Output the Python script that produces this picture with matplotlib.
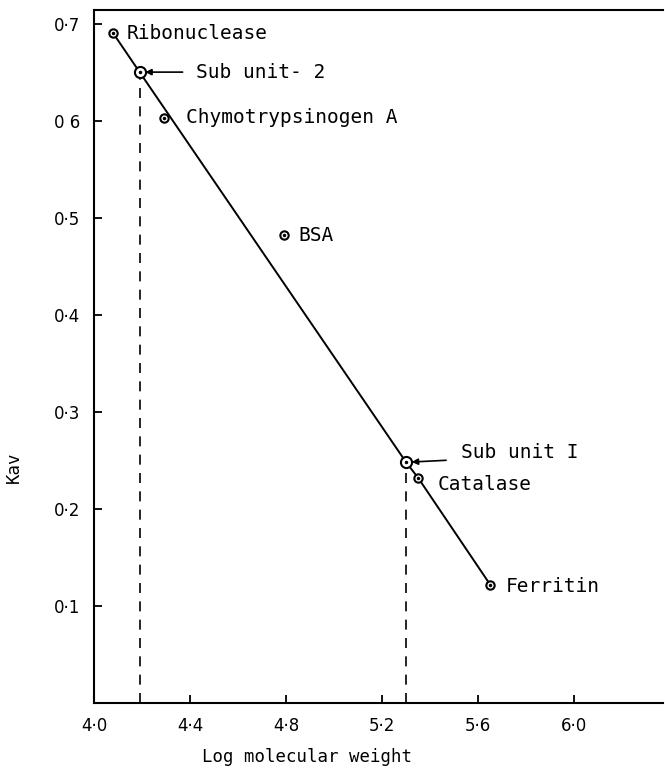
import matplotlib
matplotlib.use("Agg")
import matplotlib.pyplot as plt

# ---- data ----
proteins = ["Ribonuclease", "Chymotrypsinogen A", "BSA", "Catalase", "Ferritin"]
log_mw = [4.08, 4.29, 4.79, 5.35, 5.65]
kav = [0.69, 0.603, 0.482, 0.232, 0.122]

subunits = ["Sub unit- 2", "Sub unit I"]
sub_log_mw = [4.19, 5.30]
sub_kav = [0.65, 0.248]

x_ticks = [4.0, 4.4, 4.8, 5.2, 5.6, 6.0]
x_tick_labels = ["4·0", "4·4", "4·8", "5·2", "5·6", "6·0"]
y_ticks = [0.1, 0.2, 0.3, 0.4, 0.5, 0.6, 0.7]
y_tick_labels = ["0·1", "0·2", "0·3", "0·4", "0·5", "0 6", "0·7"]

MONO = "DejaVu Sans Mono"

# ---- figure ----
W, H = 665, 777
fig = plt.figure(figsize=(W / 100, H / 100), dpi=100)
ax = fig.add_axes([94 / W, 1 - 703 / H, (663 - 94) / W, (703 - 10) / H])
ax.set_xlim(4.0, 6.37)
ax.set_ylim(0.0, 0.714)

# fitted line through standards and subunits
line_x = [log_mw[0], sub_log_mw[0], sub_log_mw[1], log_mw[3], log_mw[4]]
line_y = [kav[0], sub_kav[0], sub_kav[1], kav[3], kav[4]]
ax.plot(line_x, line_y, color="black", lw=1.4, zorder=2)

# dashed drop lines for subunits
for xs, ys in zip(sub_log_mw, sub_kav):
    ax.plot([xs, xs], [0, ys], color="black", lw=1.2, ls=(0, (6, 5)), zorder=1)

# markers: open circle with central dot
all_x = log_mw + sub_log_mw
all_y = kav + sub_kav
sizes = [6] * len(log_mw) + [8] * len(sub_log_mw)
for xv, yv, s in zip(all_x, all_y, sizes):
    ax.plot(xv, yv, marker="o", ms=s, mfc="white", mec="black", mew=1.5, zorder=3)
    ax.plot(xv, yv, marker="o", ms=1.5, mfc="black", mec="black", zorder=4)

# protein labels
label_offsets = [(13, 0), (22, 0), (15, 0), (20, -7), (16, -2)]
for name, xv, yv, off in zip(proteins, log_mw, kav, label_offsets):
    ax.annotate(name, (xv, yv), xytext=off, textcoords="offset pixels",
                ha="left", va="center", fontsize=14, family=MONO)

# subunit labels with arrows
sub_text_off = [(56, 0), (55, 10)]
sub_arrow_off = [(43, 0), (40, 2)]
for name, xv, yv, toff, aoff in zip(subunits, sub_log_mw, sub_kav, sub_text_off, sub_arrow_off):
    ax.annotate("", xy=(xv, yv), xytext=aoff, textcoords="offset pixels",
                arrowprops=dict(arrowstyle="-|>", color="black", lw=1.2,
                                mutation_scale=9, shrinkA=0, shrinkB=4))
    ax.annotate(name, (xv, yv), xytext=toff, textcoords="offset pixels",
                ha="left", va="center", fontsize=14, family=MONO)

# axes styling
ax.spines["right"].set_visible(False)
for sp in ["left", "bottom", "top"]:
    ax.spines[sp].set_linewidth(1.5)
ax.set_xticks(x_ticks)
ax.set_xticklabels(x_tick_labels, fontsize=12)
ax.set_yticks(y_ticks)
ax.set_yticklabels(y_tick_labels, fontsize=12)
ax.tick_params(direction="in", length=6, width=1.3, pad=10)

ax.set_ylabel("Kav", fontsize=12.5, family=MONO)
ax.yaxis.set_label_coords(-0.125, 0.34)
ax.set_xlabel("Log molecular weight", fontsize=12.5, family=MONO)
ax.xaxis.set_label_coords(0.374, -0.065)

fig.savefig("out.png", dpi=100)
